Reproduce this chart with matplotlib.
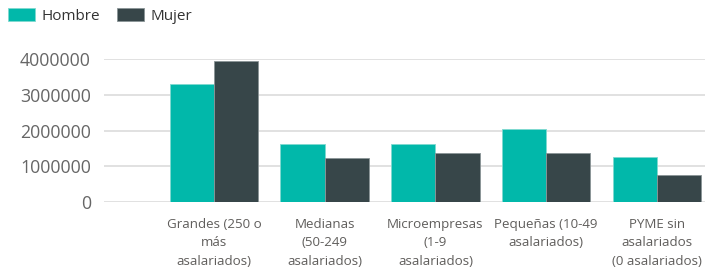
import matplotlib
matplotlib.use("Agg")
import matplotlib.pyplot as plt
import numpy as np
from matplotlib.patches import Patch

categories = ["Grandes (250 o\nmás\nasalariados)",
              "Medianas\n(50-249\nasalariados)",
              "Microempresas\n(1-9\nasalariados)",
              "Pequeñas (10-49\nasalariados)",
              "PYME sin\nasalariados\n(0 asalariados)"]
hombre = [3300000, 1640000, 1620000, 2050000, 1270000]
mujer = [3940000, 1240000, 1385000, 1370000, 750000]
yticks = [0, 1000000, 2000000, 3000000, 4000000]

plt.rcParams['font.family'] = ['Open Sans', 'DejaVu Sans']

fig = plt.figure(figsize=(7.09, 2.73), dpi=100)
ax = fig.add_axes([104/709, 1-202.3/273, (705-104)/709, (202.3-59)/273])

x = np.arange(len(categories))
w = 0.4
c_h = '#01B8AA'
c_m = '#374649'
ax.bar(x - w/2, hombre, w, color=c_h, edgecolor='#7FD9D0', linewidth=0.6, zorder=3, label='Hombre')
ax.bar(x + w/2, mujer, w, color=c_m, edgecolor='#8A9496', linewidth=0.6, zorder=3, label='Mujer')

ax.set_xlim(-0.994, 4.435)
ax.set_ylim(0, 4000000)
ax.set_yticks(yticks)
ax.set_yticklabels([str(v) for v in yticks])
ax.set_xticks(x)
ax.set_xticklabels(categories, linespacing=1.55, va='top')
ax.tick_params(axis='y', length=0, pad=9.5, labelsize=12.8, labelcolor='#666666')
ax.tick_params(axis='x', length=0, pad=11, labelsize=9.6, labelcolor='#605E5C')
for s in ax.spines.values():
    s.set_visible(False)
ax.grid(axis='y', color='#E1E1E1', linewidth=1.4, zorder=0)

handles = [Patch(facecolor=c_h, edgecolor='#7FD9D0', linewidth=0.6, label='Hombre'),
           Patch(facecolor=c_m, edgecolor='#8A9496', linewidth=0.6, label='Mujer')]
fig.legend(handles=handles, loc='upper left', bbox_to_anchor=(2/709, 1-2/273), ncol=2,
           frameon=False, fontsize=11, handlelength=1.75, handleheight=0.9,
           handletextpad=0.45, columnspacing=1.1, labelcolor='#333333',
           borderaxespad=0, borderpad=0.4)

fig.savefig('out.png', dpi=100)
